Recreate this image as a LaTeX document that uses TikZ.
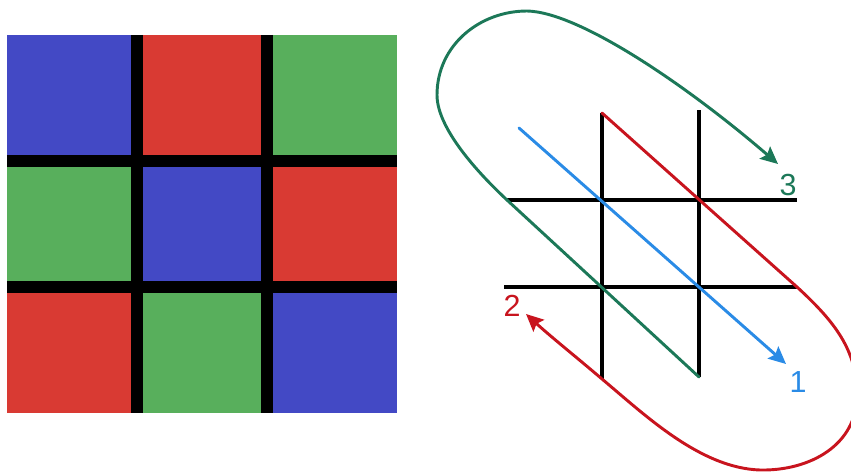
\documentclass[tikz,border=0pt]{standalone}
\usepackage{fontspec}
\setsansfont{Liberation Sans}
\usetikzlibrary{arrows.meta}
\definecolor{mosBlue}{HTML}{4349C5}
\definecolor{mosRed}{HTML}{D93A33}
\definecolor{mosGreen}{HTML}{58AF5C}
\definecolor{scanBlue}{HTML}{2A8BE6}
\definecolor{scanRed}{HTML}{C8141E}
\definecolor{scanGreen}{HTML}{1C7858}
\tikzset{
  mos/cell/.style={inner sep=0pt, outer sep=0pt, minimum width=3.9cm,
    minimum height=3.78cm},
  mos/blue/.style={mos/cell, fill=mosBlue},
  mos/red/.style={mos/cell, fill=mosRed},
  mos/green/.style={mos/cell, fill=mosGreen},
  mos/bar/.style={draw=black, line width=0.36cm},
  scan/grid/.style={draw=black, line width=3pt},
  scan/line/.style={line width=2.5pt, line cap=round},
  scan/arrow/.style={scan/line, -{Stealth[length=5.2mm,width=4.8mm,inset=0.9mm]}},
  scan/label/.style={font=\sffamily\fontsize{26}{28}\selectfont, inner sep=0pt},
}

\begin{document}
\begin{tikzpicture}[x=0.03cm, y=-0.03cm]
\useasboundingbox (0,0) rectangle (851,472);

% mosaic
\node[mos/blue]  (c11) at (72,98)   {};
\node[mos/red]   (c12) at (202,98)  {};
\node[mos/green] (c13) at (332,98)  {};
\node[mos/green] (c21) at (72,224)  {};
\node[mos/blue]  (c22) at (202,224) {};
\node[mos/red]   (c23) at (332,224) {};
\node[mos/red]   (c31) at (72,350)  {};
\node[mos/green] (c32) at (202,350) {};
\node[mos/blue]  (c33) at (332,350) {};

\draw[mos/bar] (c11.north east) -- (c31.south east);
\draw[mos/bar] (c12.north east) -- (c32.south east);
\draw[mos/bar] (c21.north west) -- (c23.north east);
\draw[mos/bar] (c31.north west) -- (c33.north east);

% scan order
\coordinate (v1t) at (602,113);
\coordinate (v1b) at (602,379);
\coordinate (v2t) at (699,110);
\coordinate (v2b) at (699,377);
\coordinate (h1l) at (507,200);
\coordinate (h1r) at (797,200);
\coordinate (h2l) at (504,287);
\coordinate (h2r) at (797,287);
\coordinate (bstart) at (519,128);
\coordinate (tip1) at (786,364);
\coordinate (tip2) at (526,314);
\coordinate (tip3) at (778,164);

\draw[scan/grid] (v1t) -- (v1b);
\draw[scan/grid] (v2t) -- (v2b);
\draw[scan/grid] (h1l) -- (h1r);
\draw[scan/grid] (h2l) -- (h2r);

\node[scan/label, text=scanBlue]  (lab1) at (798,382) {1};
\node[scan/label, text=scanRed]   (lab2) at (512,306) {2};
\node[scan/label, text=scanGreen] (lab3) at (788,185) {3};

\draw[scan/arrow, draw=scanBlue] (bstart) -- (tip1);
\draw[scan/arrow, draw=scanRed] (v1t) -- (h2r)
  .. controls (835,322) and (857,350) .. (857,395)
  .. controls (857,445) and (810,471) .. (760,470)
  .. controls (700,468) and (645,415) .. (v1b)
  .. controls (575,356) and (550,336) .. (tip2);
\draw[scan/arrow, draw=scanGreen] (v2b) -- (h1l)
  .. controls (477,172) and (437,128) .. (437,95)
  .. controls (437,45) and (480,11) .. (527,11)
  .. controls (580,12) and (690,88) .. (tip3);
\end{tikzpicture}
\end{document}
